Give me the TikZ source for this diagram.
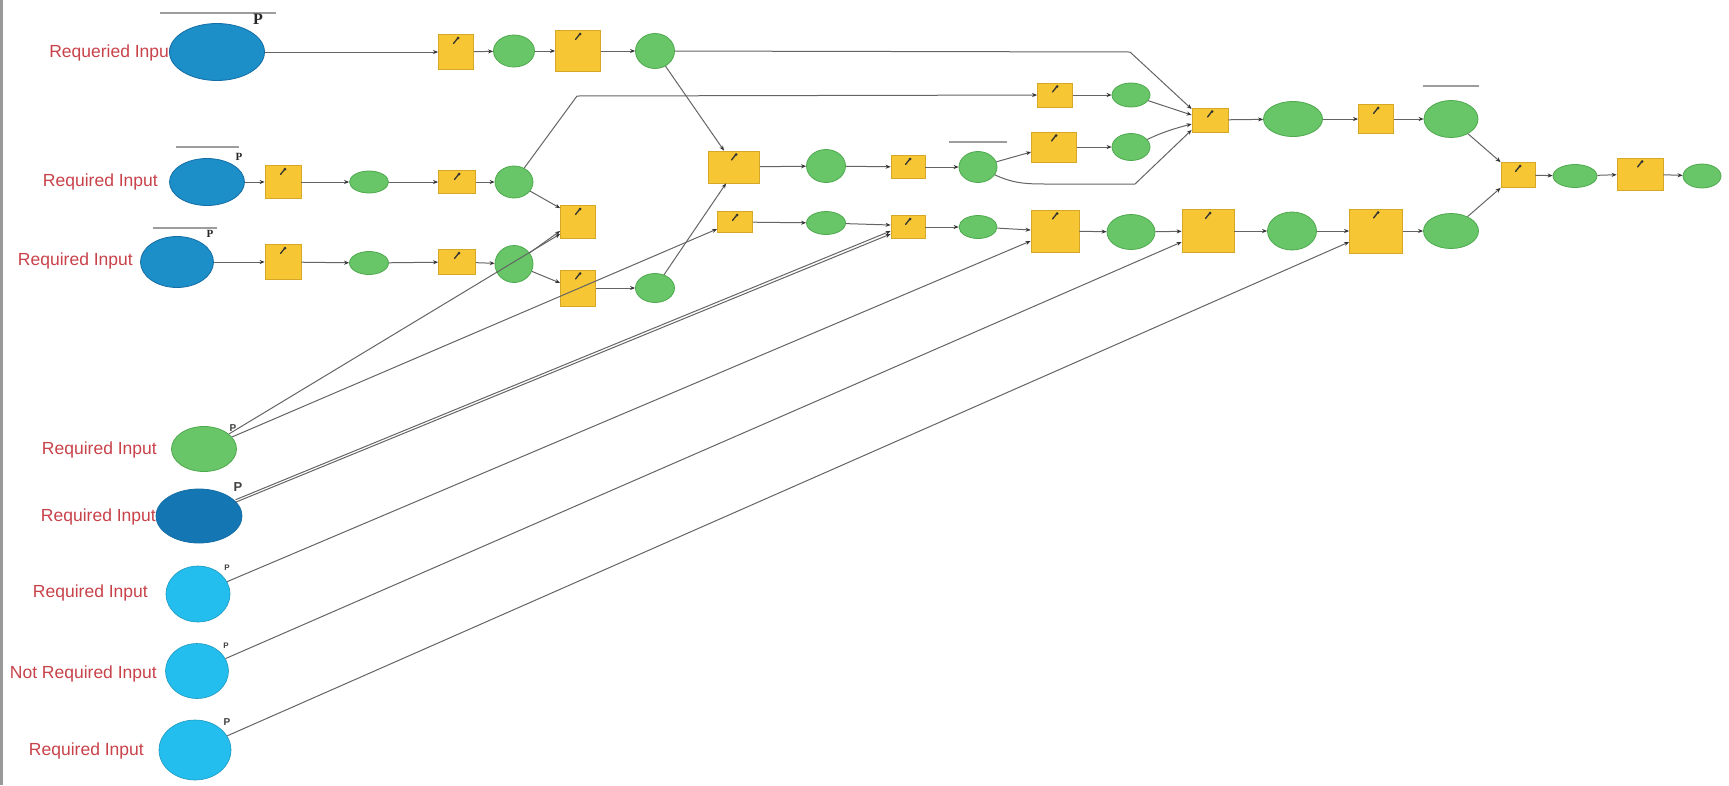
\documentclass[tikz,border=0pt]{standalone}
\usepackage{fontspec}
\setmainfont{Liberation Sans}
\newfontfamily\pserif{Liberation Serif}
\usetikzlibrary{shapes.geometric,arrows.meta,calc}
\definecolor{yfill}{RGB}{246,198,52}
\definecolor{ybord}{RGB}{214,168,40}
\definecolor{gfill}{RGB}{104,198,104}
\definecolor{gbord}{RGB}{78,168,78}
\definecolor{bdark}{RGB}{28,142,200}
\definecolor{bdarker}{RGB}{20,118,178}
\definecolor{bbord}{RGB}{20,110,165}
\definecolor{blight}{RGB}{36,190,238}
\definecolor{labc}{RGB}{200,66,74}
\definecolor{wirec}{RGB}{100,100,100}
\tikzset{
 tool/.style={rectangle, draw=ybord, fill=yfill, line width=0.8pt, inner sep=0pt,
   path picture={\draw[black!80, line width=1.3pt, line cap=round]
      ([xshift=-2.5pt,yshift=-9pt]path picture bounding box.north) -- ++(4pt,5pt);
      \fill[black!80] ([xshift=2pt,yshift=-3.5pt]path picture bounding box.north) circle (1.5pt);}},
 dat/.style={ellipse, draw=gbord, fill=gfill, line width=0.8pt, inner sep=0pt},
 inp/.style={ellipse, fill=bdark, draw=bbord, line width=0.8pt, inner sep=0pt},
 lin/.style={ellipse, fill=blight, draw=blight!80!black, line width=0.6pt, inner sep=0pt},
 lbl/.style={text=labc, font=\fontsize{17.5}{20}\selectfont, anchor=east, inner sep=0pt},
 pser/.style={font=\pserif\bfseries\fontsize{#1}{#1}\selectfont, text=black!85, inner sep=0pt},
 psan/.style={font=\bfseries\fontsize{#1}{#1}\selectfont, text=black!75, inner sep=0pt},
 annot/.style={draw=black!70, line width=1.6pt, opacity=0.55},
 conn/.style={draw=wirec, line width=1pt, -{Stealth[length=5pt,width=4pt,color=black!80]}},
}
\begin{document}
\begin{tikzpicture}[x=1pt,y=-1pt]
\useasboundingbox (0,0) rectangle (1729,785);
\fill[black!40] (0,0) rectangle (2.5,785);

% labels
\node[lbl] (t1) at (174,53) {Requeried Input};
\node[lbl] (t2) at (158,182) {Required Input};
\node[lbl] (t3) at (133,261) {Required Input};
\node[lbl] (t4) at (157,450) {Required Input};
\node[lbl] (t5) at (156,517) {Required Input};
\node[lbl] (t6) at (148,593) {Required Input};
\node[lbl] (t7) at (157,674) {Not Required Input};
\node[lbl] (t8) at (144,751) {Required Input};

% annotations (illegible small text)
\draw[annot] (160,13) -- (276,13);
\draw[annot] (176,147) -- (239,147);
\draw[annot] (153,228) -- (217,228);
\draw[annot] (949,142) -- (1007,142);
\draw[annot] (1423,86) -- (1479,86);

% row 1
\node[inp, minimum width=95, minimum height=57] (A1) at (217,52) {};
\node[tool, minimum width=35, minimum height=35] (b1) at (456,52) {};
\node[dat, minimum width=41, minimum height=32] (c1) at (514,51) {};
\node[tool, minimum width=45, minimum height=41] (b2) at (578,51) {};
\node[dat, minimum width=39, minimum height=35] (c2) at (655,51) {};
% row 2
\node[inp, minimum width=75, minimum height=47] (A2) at (207,182) {};
\node[tool, minimum width=36, minimum height=33] (r2b1) at (283,182) {};
\node[dat, minimum width=39, minimum height=22] (r2c1) at (369,182) {};
\node[tool, minimum width=37, minimum height=23] (r2b2) at (457,182) {};
\node[dat, minimum width=38, minimum height=32] (r2c2) at (514,182) {};
% row 3
\node[inp, minimum width=73, minimum height=51] (A3) at (177,262) {};
\node[tool, minimum width=36, minimum height=35] (r3b1) at (283,262) {};
\node[dat, minimum width=39, minimum height=23] (r3c1) at (369,263) {};
\node[tool, minimum width=37, minimum height=25] (r3b2) at (457,262) {};
\node[dat, minimum width=38, minimum height=37] (r3c2) at (514,264) {};
% merge area
\node[tool, minimum width=35, minimum height=33] (MG) at (578,222) {};
\node[tool, minimum width=35, minimum height=36] (LB) at (578,288) {};
\node[dat, minimum width=39, minimum height=29] (DS) at (655,288) {};
% middle row
\node[tool, minimum width=51, minimum height=32] (IN) at (734,167) {};
\node[dat, minimum width=39, minimum height=33] (m2) at (826,166) {};
\node[tool, minimum width=34, minimum height=23] (m3) at (908,167) {};
\node[dat, minimum width=38, minimum height=31] (m4) at (978,167) {};
\node[tool, minimum width=45, minimum height=30] (m5) at (1054,147) {};
\node[dat, minimum width=38, minimum height=27] (m6) at (1131,147) {};
% second top row
\node[tool, minimum width=35, minimum height=24] (TM) at (1055,95) {};
\node[dat, minimum width=38, minimum height=24] (TC) at (1131,95) {};
% row 4
\node[tool, minimum width=35, minimum height=21] (MF4) at (735,222) {};
\node[dat, minimum width=39, minimum height=23] (n1) at (826,223) {};
\node[tool, minimum width=34, minimum height=23] (AJ) at (908,227) {};
\node[dat, minimum width=38, minimum height=23] (n2) at (978,227) {};
\node[tool, minimum width=48, minimum height=42] (CF) at (1055,231) {};
\node[dat, minimum width=48, minimum height=35] (n3) at (1131,232) {};
\node[tool, minimum width=52, minimum height=43] (X1) at (1208,231) {};
\node[dat, minimum width=49, minimum height=38] (n4) at (1292,231) {};
\node[tool, minimum width=53, minimum height=44] (X2) at (1376,231) {};
\node[dat, minimum width=55, minimum height=35] (n5) at (1451,231) {};
% right
\node[tool, minimum width=36, minimum height=24] (U1) at (1210,120) {};
\node[dat, minimum width=59, minimum height=35] (p1) at (1293,119) {};
\node[tool, minimum width=35, minimum height=29] (p2) at (1376,119) {};
\node[dat, minimum width=54, minimum height=37] (p3) at (1451,119) {};
\node[tool, minimum width=34, minimum height=25] (U2) at (1518,175) {};
\node[dat, minimum width=44, minimum height=23] (q1) at (1575,176) {};
\node[tool, minimum width=46, minimum height=32] (q2) at (1640,174) {};
\node[dat, minimum width=38, minimum height=24] (q3) at (1702,176) {};
% bottom-left inputs
\node[dat, minimum width=65, minimum height=45] (G1) at (204,449) {};
\node[inp, fill=bdarker, minimum width=86, minimum height=54] (B1) at (199,516) {};
\node[lin, minimum width=64, minimum height=56] (L1) at (198,594) {};
\node[lin, minimum width=63, minimum height=55] (L2) at (197,671) {};
\node[lin, minimum width=72, minimum height=60] (L3) at (195,750) {};

% P marks
\node[pser=16] (P1) at (258,19) {P};
\node[pser=11] (P2) at (239,157) {P};
\node[pser=11] (P3) at (210,234) {P};
\node[psan=10] (P4) at (233,428) {P};
\node[psan=13] (P5) at (238,487) {P};
\node[psan=8] (P6) at (227,568) {P};
\node[psan=8] (P7) at (226,646) {P};
\node[psan=10] (P8) at (227,722) {P};

% helper coordinates
\coordinate (k1) at (1130,52);
\coordinate (k2) at (577,96);
\coordinate (k3) at (1051,184);
\coordinate (k4) at (1135,184);

% connectors row 1
\draw[conn] (A1) -- (b1);
\draw[conn] (b1) -- (c1);
\draw[conn] (c1) -- (b2);
\draw[conn] (b2) -- (c2);
\draw[conn] (c2) -- (k1) -- ([yshift=11pt]U1.west);
\draw[conn] (c2) -- ([xshift=-10pt]IN.north);
% row 2
\draw[conn] (A2) -- (r2b1);
\draw[conn] (r2b1) -- (r2c1);
\draw[conn] (r2c1) -- (r2b2);
\draw[conn] (r2b2) -- (r2c2);
\draw[conn] (r2c2) -- ([yshift=-3pt]MG.north west);
\draw[conn] (r2c2) -- (k2) -- (TM);
\draw[conn] (TM) -- (TC);
\draw[conn] (TC) -- ([yshift=5pt]U1.west);
% row 3
\draw[conn] (A3) -- (r3b1);
\draw[conn] (r3b1) -- (r3c1);
\draw[conn] (r3c1) -- (r3b2);
\draw[conn] (r3b2) -- (r3c2);
\draw[conn] (r3c2) -- ([yshift=-9pt]MG.west);
\draw[conn] (r3c2) -- ([yshift=5pt]LB.west);
\draw[conn] (LB) -- (DS);
\draw[conn] (DS) -- ([xshift=-8pt]IN.south);
% middle row
\draw[conn] (IN) -- (m2);
\draw[conn] (m2) -- (m3);
\draw[conn] (m3) -- (m4);
\draw[conn] (m4) -- ([yshift=-5pt]m5.west);
\draw[conn] (m5) -- (m6);
\draw[conn] (m6) to[out=25,in=195] ([yshift=-4pt]U1.west);
\draw[conn] (m4) to[out=-25,in=180] (k3) -- (k4) -- ([yshift=-10pt]U1.west);
% long lines from bottom inputs
\draw[conn] (G1) -- ([yshift=-12pt]MG.west);
\draw[conn] (G1) -- ([yshift=-7pt]MF4.west);
\draw[conn] ([yshift=1.5pt]B1.22) -- ([yshift=-4pt]AJ.west);
\draw[conn] ([yshift=-1pt]B1.22) -- ([yshift=-7pt]AJ.west);
\draw[conn] (L1) -- ([yshift=-10pt]CF.west);
\draw[conn] (L2) -- ([yshift=-11pt]X1.west);
\draw[conn] (L3) -- ([yshift=-11pt]X2.west);
% row 4
\draw[conn] (MF4) -- (n1);
\draw[conn] (n1) -- ([yshift=2pt]AJ.west);
\draw[conn] (AJ) -- (n2);
\draw[conn] (n2) -- ([yshift=1pt]CF.west);
\draw[conn] (CF) -- (n3);
\draw[conn] (n3) -- (X1);
\draw[conn] (X1) -- (n4);
\draw[conn] (n4) -- (X2);
\draw[conn] (X2) -- (n5);
\draw[conn] (n5) -- (U2.south west);
% right part
\draw[conn] (U1) -- (p1);
\draw[conn] (p1) -- (p2);
\draw[conn] (p2) -- (p3);
\draw[conn] (p3) -- (U2.north west);
\draw[conn] (U2) -- (q1);
\draw[conn] (q1) -- (q2);
\draw[conn] (q2) -- (q3);
\end{tikzpicture}
\end{document}
